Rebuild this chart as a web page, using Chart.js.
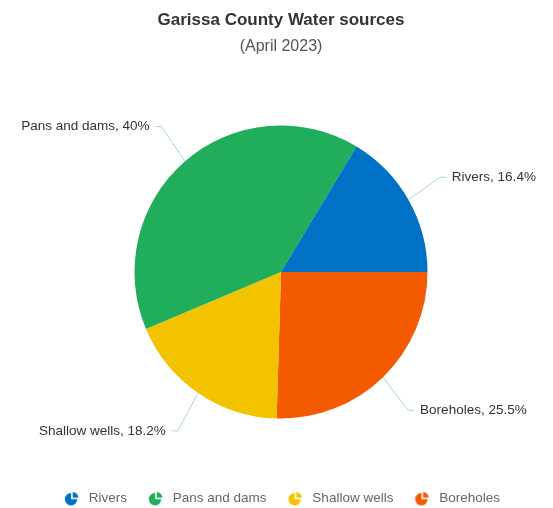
<!DOCTYPE html>
<html>
<head>
<meta charset="utf-8">
<script src="https://cdn.jsdelivr.net/npm/chart.js@4.4.1/dist/chart.umd.min.js"></script>
<style>
  html, body { margin: 0; padding: 0; background: #fff; }
  #wrap { width: 553px; height: 508px; }
</style>
</head>
<body>
<div id="wrap"><canvas id="c"></canvas></div>
<script>
// categories in legend order
const categories = ['Rivers', 'Pans and dams', 'Shallow wells', 'Boreholes'];
const shares     = [16.4, 40, 18.2, 25.5];
const colors     = ['#0072c6', '#21ae5c', '#f3c300', '#f45a00'];

// Chart.js draws clockwise; the reference goes the other way, so feed it reversed
const drawLabels = categories.slice().reverse();
const drawShares = shares.slice().reverse();
const drawColors = colors.slice().reverse();

Chart.defaults.font.family = '"Liberation Sans", Arial, Helvetica, sans-serif';

// little pie glyph for the legend
function pieIcon(color) {
  const c = document.createElement('canvas');
  c.width = 16; c.height = 16;
  const g = c.getContext('2d');
  g.fillStyle = color;
  g.beginPath();
  g.moveTo(7, 9);
  g.arc(7, 9, 6.2, 0, Math.PI * 1.5);
  g.closePath();
  g.fill();
  g.beginPath();
  g.moveTo(8.6, 7.4);
  g.arc(8.6, 7.4, 5.6, Math.PI * 1.5, Math.PI * 2);
  g.closePath();
  g.fill();
  return c;
}
const icons = drawColors.map(pieIcon);

// outside labels with connector lines
const outLabels = {
  id: 'outLabels',
  afterDatasetsDraw(chart) {
    const ctx = chart.ctx;
    const meta = chart.getDatasetMeta(0);
    const ds = chart.data.datasets[0];
    ctx.save();
    ctx.font = '13.5px "Liberation Sans", Arial, sans-serif';
    ctx.textBaseline = 'middle';
    meta.data.forEach((arc, i) => {
      const p = arc.getProps(['x', 'y', 'startAngle', 'endAngle', 'outerRadius'], true);
      const mid = (p.startAngle + p.endAngle) / 2;
      const cos = Math.cos(mid), sin = Math.sin(mid);
      const ex = p.x + p.outerRadius * cos, ey = p.y + p.outerRadius * sin;
      const kx = p.x + (p.outerRadius + 36) * cos, ky = p.y + (p.outerRadius + 46) * sin;
      const dir = cos >= 0 ? 1 : -1;
      const hx = kx + dir * 6;
      ctx.strokeStyle = '#a9d3dd';
      ctx.lineWidth = 1;
      ctx.beginPath();
      ctx.moveTo(ex, ey);
      ctx.lineTo(kx, ky);
      ctx.lineTo(hx, ky);
      ctx.stroke();
      ctx.fillStyle = '#333';
      ctx.textAlign = dir > 0 ? 'left' : 'right';
      ctx.fillText(chart.data.labels[i] + ', ' + ds.data[i] + '%', hx + dir * 6, ky);
    });
    ctx.restore();
  }
};

new Chart(document.getElementById('c'), {
  type: 'pie',
  data: {
    labels: drawLabels,
    datasets: [{
      data: drawShares,
      backgroundColor: drawColors,
      borderWidth: 0,
      radius: 146.5,
      hoverOffset: 0
    }]
  },
  options: {
    responsive: true,
    maintainAspectRatio: false,
    animation: false,
    rotation: 90,
    layout: { padding: { left: 10, right: 1, top: 0, bottom: -7 } },
    plugins: {
      title: {
        display: true,
        text: 'Garissa County Water sources',
        color: '#333',
        font: { size: 17, weight: 'bold' },
        padding: { top: 10, bottom: 4 }
      },
      subtitle: {
        display: true,
        text: '(April 2023)',
        color: '#555',
        font: { size: 16 },
        padding: { top: 3, bottom: 15 }
      },
      legend: {
        position: 'bottom',
        reverse: true,
        labels: {
          color: '#666',
          font: { size: 13.5 },
          usePointStyle: true,
          pointStyleWidth: 20,
          padding: 19,
          generateLabels(chart) {
            const items = Chart.overrides.pie.plugins.legend.labels.generateLabels(chart);
            items.forEach((it, i) => { it.pointStyle = icons[i]; });
            return items;
          }
        }
      },
      tooltip: { enabled: false }
    }
  },
  plugins: [outLabels]
});
</script>
</body>
</html>
